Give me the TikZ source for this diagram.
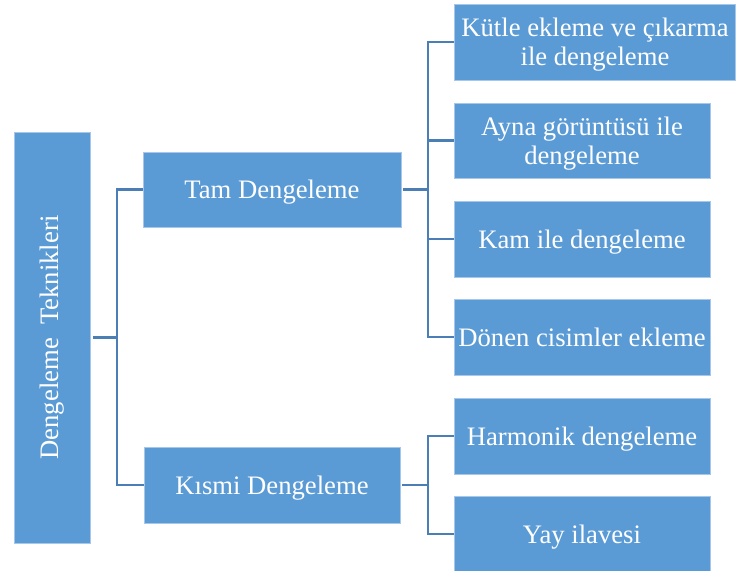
\documentclass[tikz,border=0pt]{standalone}
\usepackage{fontspec}
\setmainfont{Liberation Serif}
\definecolor{boxblue}{HTML}{5B9BD5}
\definecolor{boxedge}{HTML}{A7C7EA}
\definecolor{linkblue}{HTML}{4A7EB5}
\begin{document}
\begin{tikzpicture}[x=0.75pt,y=-0.75pt,
  box/.style={fill=boxblue,draw=boxedge,line width=0.6pt,text=white,
    inner sep=0pt,align=center,text depth=0pt,
    font=\fontsize{20}{22}\selectfont},
  link/.style={draw=linkblue,line width=2pt}]
\useasboundingbox (0,0) rectangle (736,571);

% root
\node[box,minimum width=57pt,minimum height=308.25pt] (root) at (52,337.5)
  {\rotatebox{90}{Dengeleme\ \ Teknikleri}};

% second level
\node[box,minimum width=193.5pt,minimum height=56.25pt] (tam) at (272,189.5) {Tam Dengeleme};
\node[box,minimum width=192pt,minimum height=57pt] (kismi) at (272,485) {Kısmi Dengeleme};

% leaves
\node[box,minimum width=210.75pt,minimum height=57pt] (k1) at (595,42) {Kütle ekleme ve çıkarma\\ile dengeleme};
\node[box,minimum width=192pt,minimum height=56.25pt] (k2) at (582,140.5) {Ayna görüntüsü ile\\dengeleme};
\node[box,minimum width=192pt,minimum height=57pt] (k3) at (582,239) {Kam ile dengeleme};
\node[box,minimum width=192pt,minimum height=57pt] (k4) at (582,337) {Dönen cisimler ekleme};
\node[box,minimum width=192pt,minimum height=57pt] (k5) at (582,436) {Harmonik dengeleme};
\node[box,minimum width=192pt,minimum height=57pt] (k6) at (582,534) {Yay ilavesi};

% connectors
\coordinate (j0) at (117,337.5);
\draw[link] ([xshift=2pt]root.east) -- (j0);
\draw[link] (tam.west) -| (j0) |- (kismi.west);

\coordinate (j1) at (428,189.5);
\draw[link] ([xshift=1.5pt]tam.east) -- (j1);
\foreach \n in {k1,k2,k3,k4}
  \draw[link] (j1) |- (\n.west);

\coordinate (j2) at (428,485);
\draw[link] ([xshift=1.5pt]kismi.east) -- (j2);
\foreach \n in {k5,k6}
  \draw[link] (j2) |- (\n.west);
\end{tikzpicture}
\end{document}
